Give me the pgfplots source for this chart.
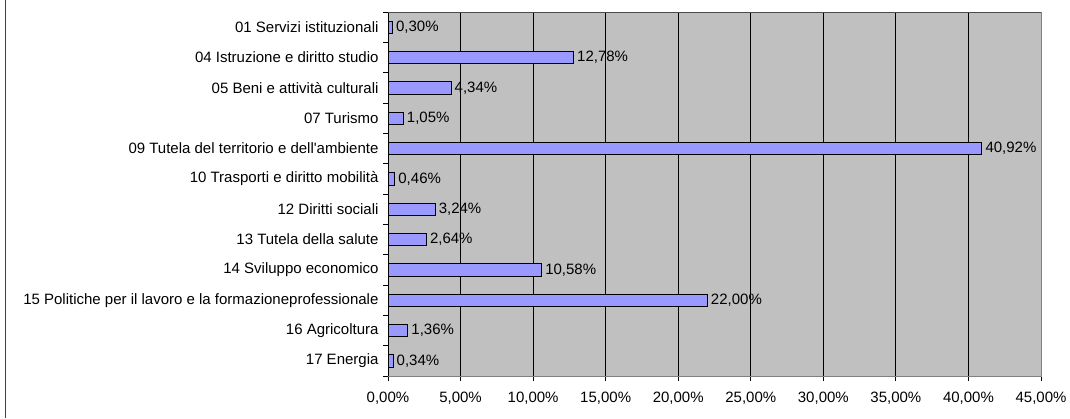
\documentclass[border=0pt]{standalone}
\usepackage{fontspec}
\setmainfont{Liberation Sans}
\usepackage{pgfplots}
\pgfplotsset{compat=1.18}
\definecolor{plotgray}{HTML}{C0C0C0}
\definecolor{barblue}{HTML}{9999FF}
\begin{document}
\begin{tikzpicture}[font=\fontsize{15}{18}\selectfont]
\useasboundingbox (0,0) rectangle (1070pt,418pt);
\fill[white] (0,0) rectangle (1070pt,418pt);
\draw[black!75, line width=1.5pt] (5.5pt,0) -- (5.5pt,418pt);
\begin{axis}[
    at={(388pt,42pt)}, anchor=south west,
    scale only axis, width=653pt, height=364pt,
    xbar, bar width=0.4,
    xmin=0, xmax=45, ymin=-0.5, ymax=11.5, y dir=reverse,
    axis background/.style={fill=plotgray},
    axis line style={draw=gray, line width=0.8pt},
    tick align=outside, tick pos=left,
    major tick length=5pt,
    tick style={black, line width=0.8pt},
    xtick={0,5,...,45},
    xticklabel={\pgfmathprintnumber[fixed,fixed zerofill,precision=2,use comma,assume math mode=true]{\tick}\%},
    xticklabel style={yshift=-7pt},
    xmajorgrids, major grid style={black, line width=0.8pt},
    ytick={-0.5,0.5,...,11.5}, yticklabels={},
    extra y ticks={0,1,...,11},
    extra y tick labels={01 Servizi istituzionali,04 Istruzione e diritto studio,05 Beni e attività culturali,07 Turismo,09 Tutela del territorio e dell\textquotesingle ambiente,10 Trasporti e diritto mobilità,12 Diritti sociali,13 Tutela della salute,14 Sviluppo economico,15 Politiche per il lavoro e la formazioneprofessionale,16 Agricoltura,17 Energia},
    extra y tick style={major tick length=0pt, yticklabel style={xshift=-6pt}},
    point meta=x,
    nodes near coords={\pgfmathprintnumber[fixed,fixed zerofill,precision=2,use comma,assume math mode=true]{\pgfplotspointmeta}\%},
    every node near coord/.append style={anchor=west, font=\fontsize{15}{18}\selectfont},
  ]
  \addplot[draw=black, line width=0.8pt, fill=barblue] coordinates {
    (0.30,0) (12.78,1) (4.34,2) (1.05,3) (40.92,4) (0.46,5)
    (3.24,6) (2.64,7) (10.58,8) (22.00,9) (1.36,10) (0.34,11)
  };
  \draw[black, line width=1pt] (rel axis cs:0,0) -- (rel axis cs:0,1);
  \draw[black!70, line width=2pt] (rel axis cs:0,1) -- (rel axis cs:1,1);
\end{axis}
\end{tikzpicture}
\end{document}
